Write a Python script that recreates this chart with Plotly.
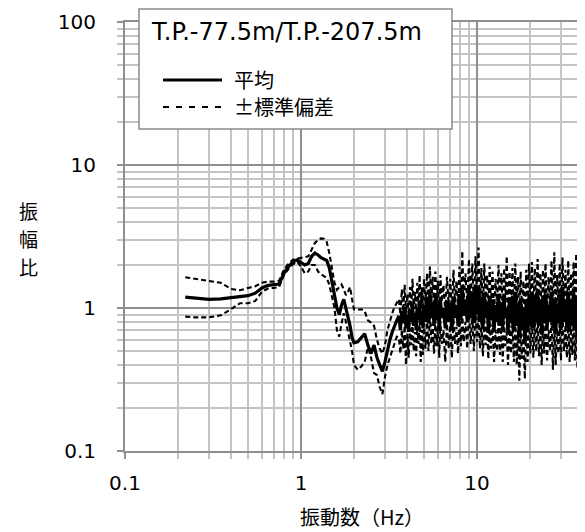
import plotly.graph_objects as go

# ---------------- data ----------------
freq = [0.22, 0.25, 0.30, 0.35, 0.40, 0.45, 0.50, 0.55, 0.60, 0.65, 0.70, 0.75, 0.80, 0.85, 0.90, 0.95,
        1.00, 1.05, 1.10, 1.15, 1.20, 1.25, 1.30, 1.35, 1.40, 1.45, 1.50, 1.55, 1.60, 1.65, 1.70, 1.75,
        1.80, 1.85, 1.90, 1.95, 2.00, 2.10, 2.20, 2.30, 2.40, 2.50, 2.60, 2.70, 2.80, 2.90, 3.00, 3.10,
        3.20, 3.30, 3.40, 3.50,
        3.6, 3.67, 3.74, 3.81, 3.88, 3.95, 4.02, 4.09, 4.16, 4.23,
        4.3, 4.37, 4.44, 4.51, 4.58, 4.65, 4.72, 4.79, 4.86, 4.93, 5.0,
        5.1, 5.2, 5.3, 5.4, 5.5, 5.6, 5.7, 5.8, 5.9, 6.0,
        6.1, 6.2, 6.3, 6.45, 6.6, 6.75, 6.9, 7.05, 7.2, 7.35,
        7.5, 7.65, 7.8, 7.95, 8.1, 8.25, 8.4, 8.6, 8.8, 9.0,
        9.2, 9.4, 9.6, 9.8, 10.0,
        10.2, 10.4, 10.6, 10.8, 11.0, 11.2, 11.4, 11.6, 11.8, 12.0,
        12.25, 12.5, 12.75, 13.0, 13.25, 13.5, 13.75, 14.0, 14.25, 14.5,
        14.75, 15.0, 15.3, 15.6, 15.9, 16.2, 16.5, 16.8, 17.1, 17.4,
        17.7, 18.0, 18.35, 18.7, 19.05, 19.4, 19.75, 20.1,
        20.5, 20.9, 21.3, 21.7, 22.1, 22.5, 22.9, 23.3, 23.7, 24.1,
        24.5, 25.0, 25.5, 26.0, 26.5, 27.0, 27.5, 28.0, 28.5, 29.0,
        29.5, 30.0, 30.6, 31.2, 31.8, 32.4, 33.0, 33.6, 34.2, 34.8,
        35.4, 36.0, 36.6, 37.2, 37.8, 38.4, 39.0, 39.6, 40.2, 40.8,
        41.4, 42.0]

mean = [1.19, 1.17, 1.15, 1.16, 1.18, 1.20, 1.22, 1.27, 1.38, 1.44, 1.45, 1.47, 1.75, 1.95, 2.10, 2.17,
        2.08, 2.00, 2.05, 2.30, 2.42, 2.35, 2.25, 2.20, 2.15, 1.90, 1.55, 1.25, 1.00, 0.90, 1.05, 1.15,
        1.00, 0.88, 0.75, 0.62, 0.57, 0.58, 0.62, 0.66, 0.55, 0.48, 0.55, 0.45, 0.40, 0.36, 0.42, 0.52,
        0.60, 0.68, 0.76, 0.82,
        0.88, 0.70, 0.95, 0.78, 1.02, 0.72, 0.90, 0.68, 0.98, 0.80,
        1.08, 0.75, 0.92, 0.70, 1.00, 0.82, 1.12, 0.76, 0.95, 0.72, 1.05,
        0.80, 1.20, 0.78, 1.30, 0.85, 1.10, 0.75, 1.18, 0.82, 1.05,
        0.70, 1.15, 0.85, 1.00, 0.72, 1.12, 0.80, 1.08, 0.70, 1.20,
        0.85, 1.05, 0.75, 1.25, 0.82, 1.35, 0.88, 1.15, 0.80, 1.40,
        0.85, 1.30, 0.78, 1.45, 0.90,
        1.40, 0.80, 1.20, 0.72, 1.28, 0.85, 1.10, 0.70, 1.22, 0.82,
        1.15, 0.68, 1.05, 0.80, 1.25, 0.75, 1.10, 0.70, 1.20, 0.85,
        1.00, 0.66, 1.15, 0.78, 1.22, 0.70, 1.30, 0.75, 1.05, 0.62,
        1.12, 0.70, 1.00, 0.58, 1.15, 0.68, 1.25, 0.75,
        1.30, 0.72, 1.20, 0.80, 1.35, 0.75, 1.10, 0.65, 1.15, 0.78,
        1.25, 0.70, 1.05, 0.80, 1.30, 0.72, 1.15, 0.66, 1.08, 0.78,
        1.25, 0.70, 1.40, 0.80, 1.15, 0.72, 1.30, 0.68, 1.10, 0.75,
        1.35, 0.70, 1.20, 0.62, 1.05, 0.70, 1.25, 0.60, 0.95, 0.55,
        0.85, 0.50]

upper = [1.64, 1.60, 1.55, 1.50, 1.36, 1.33, 1.38, 1.42, 1.50, 1.53, 1.53, 1.55, 1.85, 2.05, 2.18, 2.22,
         2.25, 2.27, 2.30, 2.55, 2.85, 3.00, 3.07, 3.05, 2.90, 2.40, 1.90, 1.50, 1.34, 1.40, 1.46, 1.35,
         1.23, 1.30, 1.40, 1.15, 0.98, 0.97, 0.98, 0.95, 0.82, 0.79, 0.75, 0.60, 0.52, 0.48, 0.55, 0.70,
         0.82, 0.92, 1.02, 1.08,
         1.15, 0.90, 1.35, 0.95, 1.45, 0.92, 1.25, 0.88, 1.40, 1.00,
         1.60, 0.98, 1.30, 0.90, 1.50, 1.05, 1.70, 1.00, 1.40, 0.95, 1.60,
         1.05, 1.75, 1.00, 1.95, 1.10, 1.65, 0.95, 1.80, 1.05, 1.55,
         0.92, 1.70, 1.10, 1.45, 0.95, 1.65, 1.05, 1.60, 0.92, 1.85,
         1.10, 1.55, 1.00, 1.95, 1.05, 2.50, 1.15, 1.75, 1.05, 2.20,
         1.10, 2.05, 1.00, 2.30, 1.20,
         2.65, 1.05, 1.90, 0.95, 2.05, 1.10, 1.70, 0.92, 1.95, 1.05,
         1.80, 0.90, 1.60, 1.05, 2.00, 1.00, 1.75, 0.92, 1.90, 1.10,
         2.30, 0.88, 1.80, 1.00, 1.90, 0.92, 2.05, 0.98, 1.65, 0.85,
         1.80, 0.95, 1.55, 0.80, 1.85, 0.92, 2.05, 1.00,
         2.10, 0.95, 1.90, 1.05, 2.20, 1.00, 1.75, 0.88, 1.85, 1.02,
         2.05, 0.92, 1.65, 1.05, 2.15, 0.95, 2.45, 0.88, 1.70, 1.02,
         2.05, 0.92, 2.25, 1.05, 1.85, 0.95, 2.15, 0.90, 1.75, 1.00,
         2.10, 0.92, 2.40, 0.85, 1.70, 0.92, 2.10, 0.80, 1.55, 0.75,
         1.40, 0.70]

lower = [0.87, 0.86, 0.86, 0.89, 0.98, 1.08, 1.08, 1.12, 1.30, 1.37, 1.38, 1.40, 1.70, 1.88, 2.02, 2.11,
         1.95, 1.75, 1.80, 2.00, 2.00, 1.80, 1.72, 1.66, 1.62, 1.45, 1.22, 1.00, 0.70, 0.63, 0.78, 0.92,
         0.80, 0.68, 0.60, 0.50, 0.40, 0.37, 0.39, 0.42, 0.53, 0.45, 0.35, 0.34, 0.28, 0.25, 0.33, 0.40,
         0.45, 0.50, 0.57, 0.63,
         0.62, 0.48, 0.70, 0.52, 0.75, 0.40, 0.66, 0.45, 0.72, 0.55,
         0.80, 0.50, 0.68, 0.46, 0.74, 0.56, 0.82, 0.42, 0.70, 0.47, 0.78,
         0.52, 0.85, 0.50, 0.90, 0.56, 0.78, 0.48, 0.82, 0.54, 0.75,
         0.45, 0.80, 0.56, 0.70, 0.42, 0.78, 0.52, 0.76, 0.45, 0.85,
         0.56, 0.74, 0.48, 0.88, 0.54, 0.92, 0.58, 0.80, 0.52, 0.95,
         0.56, 0.88, 0.50, 0.95, 0.58,
         0.90, 0.52, 0.82, 0.46, 0.86, 0.55, 0.75, 0.44, 0.82, 0.52,
         0.78, 0.42, 0.70, 0.50, 0.84, 0.47, 0.74, 0.42, 0.80, 0.54,
         0.68, 0.40, 0.76, 0.48, 0.82, 0.42, 0.86, 0.40, 0.70, 0.31,
         0.74, 0.44, 0.66, 0.32, 0.76, 0.42, 0.84, 0.48,
         0.86, 0.45, 0.80, 0.50, 0.88, 0.46, 0.74, 0.40, 0.76, 0.48,
         0.82, 0.43, 0.70, 0.50, 0.86, 0.37, 0.76, 0.40, 0.72, 0.48,
         0.82, 0.43, 0.92, 0.50, 0.76, 0.45, 0.86, 0.42, 0.72, 0.47,
         0.88, 0.43, 0.78, 0.38, 0.70, 0.43, 0.82, 0.36, 0.62, 0.33,
         0.55, 0.30]

assert len(freq) == len(mean) == len(upper) == len(lower), (len(freq), len(mean), len(upper), len(lower))

x_tick_vals = [0.1, 1, 10]
x_tick_text = ["0.1", "1", "10"]
y_tick_vals = [0.1, 1, 10, 100]
y_tick_text = ["0.1", "1", "10", "100"]

legend_title = "T.P.-77.5m/T.P.-207.5m"
name_mean = "平均"
name_std = "±標準偏差"
x_title = "振動数（Hz）"
y_title_chars = ["振", "幅", "比"]

# ---------------- figure ----------------
OFF = 8                      # default page body margin
W, H = 585 - OFF, 532 - OFF
ML, MR, MT, MB = 117, 0, 14, 81
PW, PH = W - ML - MR, H - MT - MB
X_DECADE = 176.0
x_max_log = -1 + PW / X_DECADE

FONT_JP = "Noto Sans CJK JP"
FONT_NUM = "DejaVu Sans"


def px(page_x):
    return (page_x - OFF - ML) / PW


def py(page_y):
    return (H - MB - (page_y - OFF)) / PH


minor_vals = [m * 10 ** e for e in (-1, 0, 1) for m in range(2, 10)]

fig = go.Figure()
fig.add_trace(go.Scatter(x=freq, y=upper, mode="lines", name=name_std,
                         line=dict(color="black", width=2.1, dash="5px,3px"), showlegend=False))
fig.add_trace(go.Scatter(x=freq, y=lower, mode="lines", name=name_std,
                         line=dict(color="black", width=2.1, dash="5px,3px"), showlegend=False))
fig.add_trace(go.Scatter(x=freq, y=mean, mode="lines", name=name_mean,
                         line=dict(color="black", width=3.2), showlegend=False))

GRID_MAJOR = "#8f8f8f"
GRID_MINOR = "#c4c4c4"

common = dict(showgrid=True, gridcolor=GRID_MAJOR, gridwidth=2,
              showline=True, linecolor=GRID_MAJOR, linewidth=2,
              ticks="outside", ticklen=6, tickwidth=2, tickcolor=GRID_MAJOR,
              tickfont=dict(family=FONT_NUM, size=20, color="black"),
              minor=dict(tickvals=minor_vals, showgrid=True, gridcolor=GRID_MINOR, gridwidth=2,
                         ticks="outside", ticklen=6, tickwidth=2, tickcolor=GRID_MINOR),
              zeroline=False)

fig.update_xaxes(type="log", range=[-1, x_max_log], tickvals=x_tick_vals, ticktext=x_tick_text,
                 mirror=True, ticklabelstandoff=7, **common)
fig.update_yaxes(type="log", range=[-1, 2], tickvals=y_tick_vals, ticktext=y_tick_text,
                 ticklabelstandoff=17, **common)

shapes = [
    dict(type="rect", xref="paper", yref="paper", x0=px(139), x1=px(452), y0=py(129), y1=py(9),
         fillcolor="white", line=dict(color="#8a8a8a", width=1.5), layer="above"),
    dict(type="line", xref="paper", yref="paper", x0=px(163), x1=px(222), y0=py(80), y1=py(80),
         line=dict(color="black", width=3), layer="above"),
    dict(type="line", xref="paper", yref="paper", x0=px(163), x1=px(222), y0=py(107), y1=py(107),
         line=dict(color="black", width=1.8, dash="6px,7px"), layer="above"),
]

annotations = [
    dict(text=legend_title, xref="paper", yref="paper", x=px(149), y=py(32), xanchor="left",
         yanchor="middle", showarrow=False, font=dict(family=FONT_NUM, size=24, color="black")),
    dict(text=name_mean, xref="paper", yref="paper", x=px(232), y=py(80), xanchor="left",
         yanchor="middle", showarrow=False, font=dict(family=FONT_JP, size=20, color="black")),
    dict(text=name_std, xref="paper", yref="paper", x=px(232), y=py(107), xanchor="left",
         yanchor="middle", showarrow=False, font=dict(family=FONT_JP, size=20, color="black")),
    dict(text=x_title, xref="paper", yref="paper", x=px(362), y=py(517), xanchor="center",
         yanchor="middle", showarrow=False, font=dict(family=FONT_JP, size=20, color="black")),
]
for i, ch in enumerate(y_title_chars):
    annotations.append(dict(text=ch, xref="paper", yref="paper", x=px(28), y=py(210 + 28 * i),
                            xanchor="center", yanchor="middle", showarrow=False,
                            font=dict(family=FONT_JP, size=19, color="black")))

fig.update_layout(width=W, height=H, margin=dict(l=ML, r=MR, t=MT, b=MB, pad=0),
                  paper_bgcolor="white", plot_bgcolor="white",
                  shapes=shapes, annotations=annotations, showlegend=False)

fig.write_html("out.html")
